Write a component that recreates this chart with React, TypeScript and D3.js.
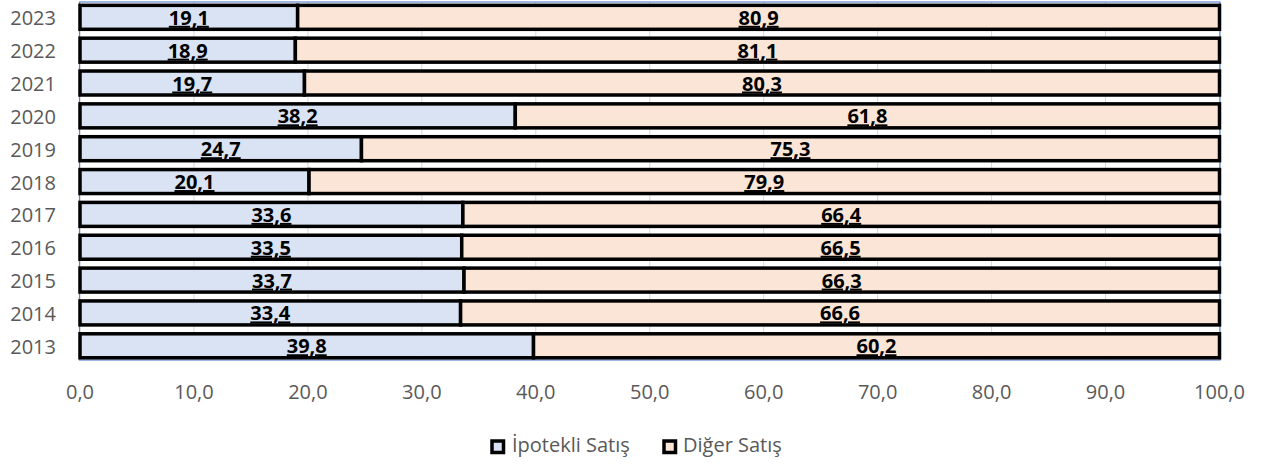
import React from "react";
import * as d3 from "d3";

const years = ["2023","2022","2021","2020","2019","2018","2017","2016","2015","2014","2013"];
const ipotekli = [19.1,18.9,19.7,38.2,24.7,20.1,33.6,33.5,33.7,33.4,39.8];
const diger = [80.9,81.1,80.3,61.8,75.3,79.9,66.4,66.5,66.3,66.6,60.2];
const xTicks = [0,10,20,30,40,50,60,70,80,90,100];
const seriesNames = ["İpotekli Satış","Diğer Satış"];
const colors = ["#DAE3F3","#FBE5D6"];

const fmt = (v: number) => v.toFixed(1).replace(".", ",");

export default function App() {
  const W = 1263, H = 464;
  const left = 80, right = 1219.5;
  const x = d3.scaleLinear().domain([0, 100]).range([left, right]);
  const y = d3.scaleBand().domain(years).range([0.9, 362.2]).paddingInner(0.27).paddingOuter(0.135);
  const font = "'Open Sans', 'Noto Sans', sans-serif";
  return (
    <svg width={W} height={H} style={{ position: "absolute", left: 0, top: 0, background: "#fff" }}>
      {xTicks.map(t => (
        <line key={"g"+t} x1={x(t)} x2={x(t)} y1={2} y2={360} stroke="#D9D9D9" strokeWidth={1} />
      ))}
      <rect x={79.5} y={2} width={1140.5} height={358} fill="none" stroke="#4472C4" strokeWidth={1.2} opacity={0.85} />
      {years.map((yr, i) => {
        const y0 = y(yr)!; const bh = y.bandwidth(); const cy = y0 + bh / 2;
        const a = ipotekli[i], b = diger[i];
        return (
          <g key={yr}>
            <rect x={x(0)} y={y0} width={x(a)-x(0)} height={bh} fill={colors[0]} stroke="#000" strokeWidth={3.5} />
            <rect x={x(a)} y={y0} width={x(a+b)-x(a)} height={bh} fill={colors[1]} stroke="#000" strokeWidth={3.5} />
            <text x={(x(0)+x(a))/2} y={cy+7.5} textAnchor="middle" fontFamily={font} fontWeight="bold" fontSize={20} textDecoration="underline" fill="#000">{fmt(a)}</text>
            <text x={(x(a)+x(a+b))/2} y={cy+7.5} textAnchor="middle" fontFamily={font} fontWeight="bold" fontSize={20} textDecoration="underline" fill="#000">{fmt(b)}</text>
            <text x={56} y={cy+8} textAnchor="end" fontFamily={font} fontSize={20} fill="#595959">{yr}</text>
          </g>
        );
      })}
      {xTicks.map(t => (
        <text key={"t"+t} x={x(t)} y={399} textAnchor="middle" fontFamily={font} fontSize={20} fill="#595959">{fmt(t)}</text>
      ))}
      <g>
        <rect x={492} y={441} width={11.5} height={11.5} fill={colors[0]} stroke="#000" strokeWidth={3.5} />
        <text x={512} y={452} fontFamily={font} fontSize={20} fill="#595959">{seriesNames[0]}</text>
        <rect x={664} y={441} width={11.5} height={11.5} fill={colors[1]} stroke="#000" strokeWidth={3.5} />
        <text x={683} y={452} fontFamily={font} fontSize={20} fill="#595959">{seriesNames[1]}</text>
      </g>
    </svg>
  );
}
